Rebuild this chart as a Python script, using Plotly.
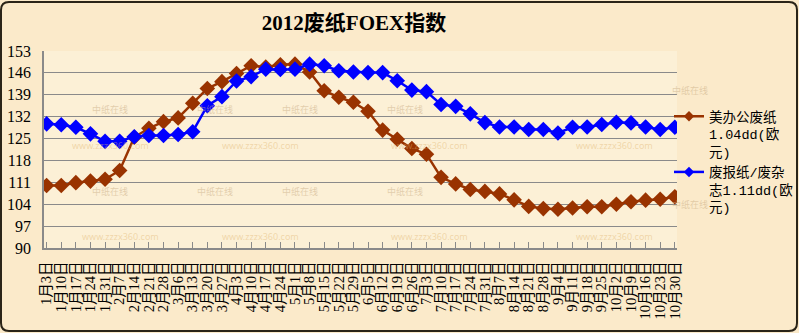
import plotly.graph_objects as go

categories = ["1月3日","1月10日","1月17日","1月24日","1月31日","2月7日","2月14日","2月21日","2月28日",
              "3月6日","3月13日","3月20日","3月27日","4月3日","4月10日","4月17日","4月24日","5月1日",
              "5月8日","5月15日","5月22日","5月29日","6月5日","6月12日","6月19日","6月26日","7月3日",
              "7月10日","7月17日","7月24日","7月31日","8月7日","8月14日","8月21日","8月28日","9月4日",
              "9月11日","9月18日","9月25日","10月2日","10月9日","10月16日","10月23日","10月30日"]

office_paper = [110.0, 110.0, 110.9, 111.4, 112.0, 114.8, 125.4, 128.3, 130.4, 131.6, 136.3, 141.0,
                143.2, 145.8, 148.3, 147.9, 148.6, 148.8, 146.3, 140.3, 138.2, 136.6, 133.7, 127.7,
                124.8, 121.8, 120.0, 112.6, 110.5, 108.7, 108.1, 107.3, 105.4, 103.3, 102.6, 102.4,
                102.8, 103.2, 103.2, 104.0, 104.8, 105.3, 105.6, 106.4]

news_mag = [129.7, 129.4, 128.6, 126.5, 124.1, 124.1, 125.6, 126.0, 126.0, 126.3, 127.2, 135.5,
            138.4, 143.4, 144.8, 147.2, 147.1, 147.2, 148.8, 148.3, 146.7, 146.3, 146.1, 146.1,
            143.5, 140.5, 140.0, 135.9, 135.3, 132.9, 130.1, 128.7, 128.7, 127.9, 127.9, 126.8,
            128.6, 128.7, 129.5, 130.2, 130.0, 128.7, 127.9, 128.6]

series_names = ["美办公废纸<br>1.04dd(欧<br>元)", "废报纸/废杂<br>志1.11dd(欧<br>元)"]
series_colors = ["#993300", "#0000FF"]
y_ticks = [90, 97, 104, 111, 118, 125, 132, 139, 146, 153]
title_text = "2012废纸FOEX指数"

xs = list(range(len(categories)))

L, R, T, B = 44, 677, 51, 248
W, H = R - L, B - T
def px2x(p): return (p - L) / W
def py2y(p): return (B - p) / H

fig = go.Figure()
for vals, name, col in zip([office_paper, news_mag], series_names, series_colors):
    fig.add_trace(go.Scatter(x=xs, y=vals, name=name, mode="lines+markers", showlegend=False,
                             line=dict(color=col, width=2.5),
                             marker=dict(symbol="diamond", size=12, color=col)))
# legend entries with smaller symbols (as in the reference legend)
for name, col in zip(series_names, series_colors):
    fig.add_trace(go.Scatter(x=[None], y=[None], name=name, mode="lines+markers", showlegend=True,
                             line=dict(color=col, width=2.5),
                             marker=dict(symbol="diamond", size=8, color=col)))

# faint watermarks
wm_color = "rgba(225,180,110,0.45)"
for (px, py) in [(70, 145), (260, 145), (470, 145), (655, 145), (80, 245), (260, 245), (470, 245), (655, 245)]:
    fig.add_annotation(text="www.zzzx360.com", x=px2x(px), y=py2y(py), xref="paper", yref="paper",
                       showarrow=False, font=dict(size=9, color=wm_color, family="Noto Sans"))
for (px, py) in [(90, 101), (195, 101), (300, 101), (405, 101), (710, 82), (90, 200), (195, 200), (300, 200), (405, 200), (710, 213)]:
    fig.add_annotation(text="中纸在线", x=px2x(px), y=py2y(py), xref="paper", yref="paper",
                       showarrow=False, font=dict(size=9, color="rgba(200,170,130,0.5)", family="Noto Sans CJK SC"))

# rounded border around the whole image
x0, x1 = px2x(1), px2x(797)
y0, y1 = py2y(331), py2y(2)
rx, ry = 8 / W, 8 / H
path = (f"M {x0+rx},{y1} L {x1-rx},{y1} Q {x1},{y1} {x1},{y1-ry} L {x1},{y0+ry} Q {x1},{y0} {x1-rx},{y0} "
        f"L {x0+rx},{y0} Q {x0},{y0} {x0},{y0+ry} L {x0},{y1-ry} Q {x0},{y1} {x0+rx},{y1} Z")
fig.add_shape(type="path", path=path, xref="paper", yref="paper",
              line=dict(color="#2a2418", width=2), layer="above")

fig.update_layout(
    width=799, height=333,
    margin=dict(l=L, r=799 - R, t=T, b=333 - B, autoexpand=False),
    paper_bgcolor="#FBEACA",
    plot_bgcolor="#FCF0D6",
    title=dict(text=f"<b>{title_text}</b>", x=354 / 799, xanchor="center", xref="container",
               y=1 - 23 / 333, yanchor="middle", yref="container",
               font=dict(size=21, color="black", family="Liberation Serif, Noto Sans CJK SC")),
    showlegend=True,
    legend=dict(x=px2x(669), y=py2y(101), xanchor="left", yanchor="top",
                bgcolor="rgba(0,0,0,0)", font=dict(size=13.5, color="black",
                family="Liberation Mono, Noto Sans CJK SC"),
                valign="top", tracegroupgap=0, itemwidth=30),
    xaxis=dict(range=[-0.18, 43.15], tickmode="array", tickvals=xs, ticktext=categories,
               tickangle=-90, ticks="inside", ticklen=6, tickcolor="#8a8a8a",
               showgrid=False, showline=True, linecolor="#8a8a8a", linewidth=1.5,
               ticklabelstandoff=6,
               tickfont=dict(size=14.5, color="black", family="Liberation Serif, Noto Sans CJK SC"),
               zeroline=False, fixedrange=True),
    yaxis=dict(range=[90, 153], tickmode="array", tickvals=y_ticks, showgrid=True,
               gridcolor="#8a8a8a", gridwidth=1.2, showline=True, linecolor="#8a8a8a", linewidth=1.5,
               ticks="", ticklabelstandoff=8,
               tickfont=dict(size=16, color="black", family="Liberation Serif"),
               zeroline=False, fixedrange=True),
)

fig.write_html("out.html")
